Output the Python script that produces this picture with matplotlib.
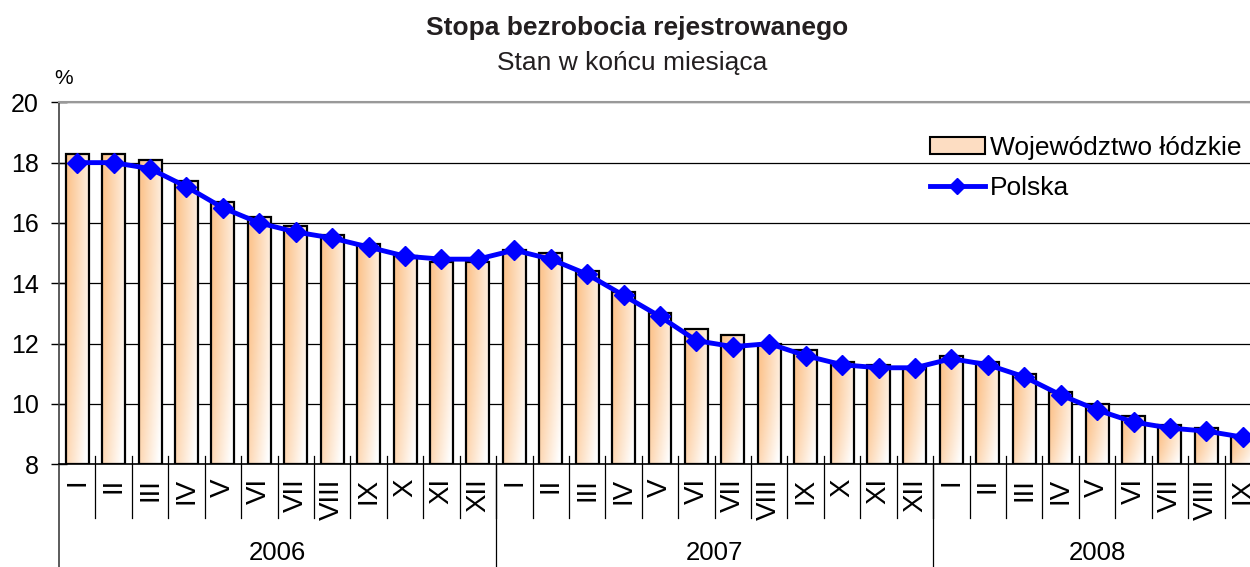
import matplotlib
matplotlib.use('Agg')
import matplotlib.pyplot as plt
import numpy as np
from matplotlib.patches import Patch
from matplotlib.lines import Line2D

plt.rcParams['font.family'] = ['Liberation Sans', 'DejaVu Sans']

years = ['2006', '2007', '2008']
months_per_year = [12, 12, 9]
month_labels = ['I', 'II', 'III', 'IV', 'V', 'VI', 'VII', 'VIII', 'IX', 'X', 'XI', 'XII']

lodzkie = [18.3, 18.3, 18.1, 17.4, 16.7, 16.2, 15.9, 15.6, 15.3, 14.9, 14.7, 14.7,
           15.1, 15.0, 14.4, 13.7, 13.0, 12.5, 12.3, 12.0, 11.8, 11.4, 11.3, 11.2,
           11.6, 11.4, 11.0, 10.4, 10.0, 9.6, 9.3, 9.2, 8.9]
polska = [18.0, 18.0, 17.8, 17.2, 16.5, 16.0, 15.7, 15.5, 15.2, 14.9, 14.8, 14.8,
          15.1, 14.8, 14.3, 13.6, 12.9, 12.1, 11.9, 12.0, 11.6, 11.3, 11.2, 11.2,
          11.5, 11.3, 10.9, 10.3, 9.8, 9.4, 9.2, 9.1, 8.9]

labels = [m for n in months_per_year for m in month_labels[:n]]
x = np.arange(len(lodzkie))

W, H = 1250, 567
fig = plt.figure(figsize=(W / 100, H / 100), dpi=100)
ax = fig.add_axes([59 / W, (H - 464.3) / H, (1261 - 59) / W, 362 / H])

ymin, ymax = 8, 20
bw = 0.63

# gradient bars: orange on top-left, fading to white towards bottom-right
gx = np.linspace(0, 1, 40)
gy = np.linspace(0, 1, 60)
GX, GY = np.meshgrid(gx, gy)
t = np.clip(0.8 * GX + 0.4 * GY ** 2 - 0.1, 0, 1)
c0 = np.array([252, 198, 146]) / 255
c1 = np.array([255, 255, 255]) / 255
grad = c0 * (1 - t[..., None]) + c1 * t[..., None]

for xi, v in zip(x, lodzkie):
    ax.imshow(grad, extent=[xi - bw / 2, xi + bw / 2, ymin, v], aspect='auto',
              origin='upper', zorder=1.8, interpolation='bilinear')
ax.bar(x, np.array(lodzkie) - ymin, bottom=ymin, width=bw, facecolor='none',
       edgecolor='black', linewidth=1.6, zorder=2)

ax.plot(x, polska, color='#0000FF', linewidth=3.5, marker='D', markersize=10,
        zorder=3)

ax.set_xlim(-0.5, len(x) - 0.5)
ax.set_ylim(ymin, ymax)
ax.set_yticks(np.arange(8, 21, 2))
ax.tick_params(axis='y', direction='inout', length=11, width=1, labelsize=18,
               pad=9, color='black')
ax.yaxis.grid(True, color='black', linewidth=0.9)
ax.set_axisbelow(True)

ax.set_xticks(x)
ax.set_xticklabels(labels, rotation=90, fontsize=20, va='top')
ax.tick_params(axis='x', length=0, pad=10)

ax.spines['right'].set_visible(False)
ax.spines['top'].set_color('#999999')
ax.spines['top'].set_linewidth(1.5)
ax.spines['left'].set_color('#404040')
ax.spines['left'].set_linewidth(1.2)
ax.spines['bottom'].set_linewidth(1.2)

# category separators below the axis
trans = ax.get_xaxis_transform()
for b in range(1, len(x)):
    ax.plot([b - 0.5, b - 0.5], [0.022, -0.148], transform=trans, color='black',
            linewidth=0.9, clip_on=False)
ax.plot([-0.5, -0.5], [0, -0.3], transform=trans, color='#404040',
        linewidth=1.2, clip_on=False)
start = 0
for yr, n in zip(years, months_per_year):
    if start > 0:
        ax.plot([start - 0.5, start - 0.5], [0, -0.3], transform=trans,
                color='black', linewidth=0.9, clip_on=False)
    ax.text(start + n / 2 - 0.5, -0.245, yr, transform=trans, ha='center',
            va='center', fontsize=18.5)
    start += n

fig.text(637 / W, 1 - 28 / H, 'Stopa bezrobocia rejestrowanego', ha='center',
         va='center', fontsize=19, fontweight='bold', color='#231f20')
fig.text(632 / W, 1 - 63 / H, 'Stan w końcu miesiąca', ha='center',
         va='center', fontsize=19, color='#231f20')
fig.text(64 / W, 1 - 78 / H, '%', ha='center', va='center', fontsize=15)

handles = [Patch(facecolor='#FDDDC2', edgecolor='black', linewidth=1.5),
           Line2D([0], [0], color='#0000FF', linewidth=3.5, marker='D',
                  markersize=8)]
ax.legend(handles, ['Województwo łódzkie', 'Polska'], loc='upper left',
          bbox_to_anchor=(919 / W, 1 - 125 / H), bbox_transform=fig.transFigure,
          frameon=False, fontsize=19, handlelength=2.1, handleheight=0.6,
          handletextpad=0.2, labelspacing=0.62, borderaxespad=0)

fig.savefig('out.png', dpi=100)
